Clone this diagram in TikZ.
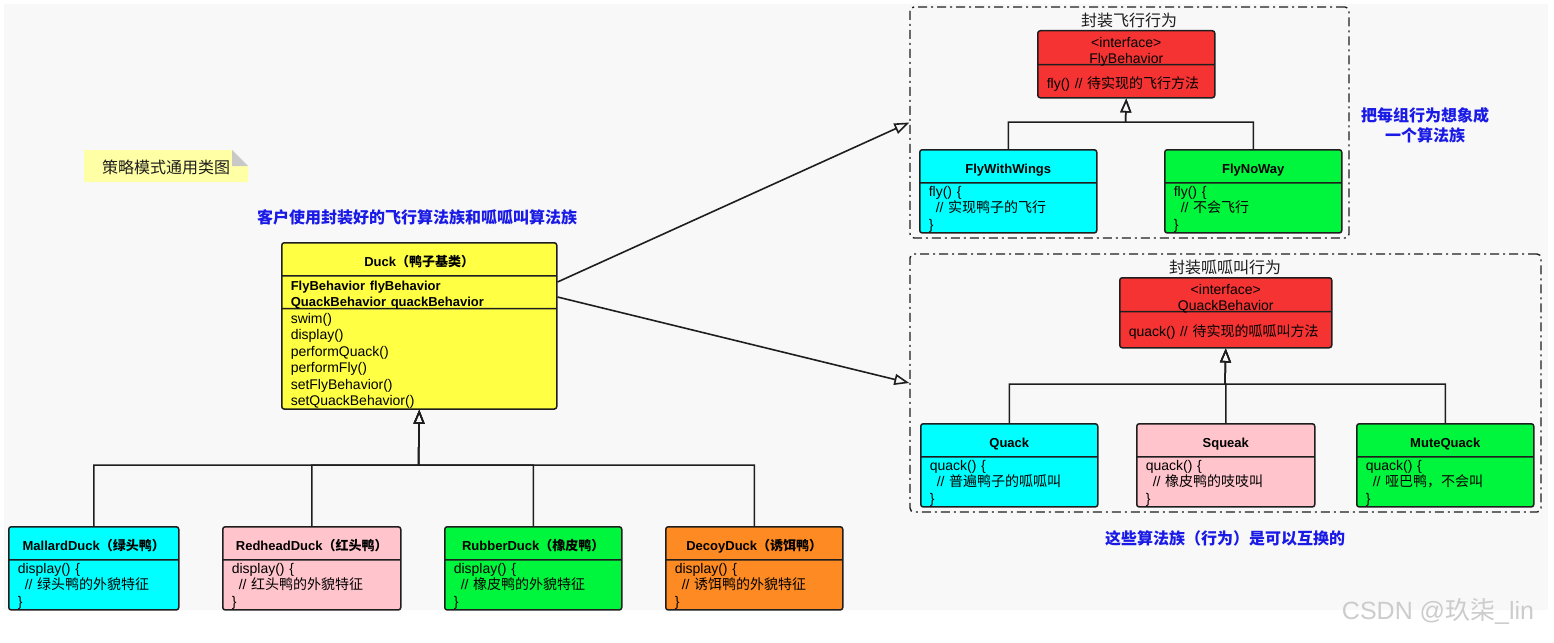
\documentclass[tikz,border=0pt]{standalone}
\usepackage{fontspec}
\setmainfont{Liberation Sans}
\newfontfamily\zhfont{Noto Sans CJK SC}
\usetikzlibrary{shapes.multipart,arrows.meta}
\usepackage{xcolor}

\definecolor{linec}{HTML}{1E1E1E}
\definecolor{bgc}{HTML}{F8F8F8}
\definecolor{duckc}{HTML}{FFFF44}
\definecolor{cyanc}{HTML}{00FFFF}
\definecolor{pinkc}{HTML}{FFC4CC}
\definecolor{greenc}{HTML}{00F53D}
\definecolor{orangec}{HTML}{FD8A23}
\definecolor{redc}{HTML}{F53333}
\definecolor{notec}{HTML}{FFFFA6}
\definecolor{foldc}{HTML}{C8C8C8}
\definecolor{bluec}{HTML}{1A1AE6}

\newcommand{\zh}[1]{{\zhfont #1}}
\newcommand{\hd}[1]{\centering\bfseries\fontsize{13}{16.4}\selectfont\rule[-9pt]{0pt}{31.5pt}#1\par}
\newcommand{\fstrut}{\rule{0pt}{13pt}}

\begin{document}
\begin{tikzpicture}[x=1pt, y=-1pt,
    cls/.style={draw=linec, line width=1.5pt, rounded corners=2.5pt, anchor=north west, rectangle split, rectangle split parts=2, align=left, inner xsep=9pt, inner ysep=0pt, font=\fontsize{14}{16.4}\selectfont},
    grp/.style={draw=linec, line width=1.4pt, rounded corners=4pt, dash pattern=on 9pt off 4pt on 2pt off 4pt},
    grptitle/.style={font=\fontsize{16}{20}\selectfont, text=linec, inner sep=0pt},
    hint/.style={font=\bfseries\fontsize{16}{20}\selectfont, text=bluec, align=center, inner sep=0pt},
    inh/.style={draw=linec, line width=1.5pt, -{Triangle[open, length=14pt, width=11pt]}},
    assoc/.style={draw=linec, line width=1.6pt, -{Triangle[open, length=15pt, width=11pt]}}
]
\useasboundingbox (0,0) rectangle (1554,642);
\fill[bgc] (4,4) rectangle (1548,610);

% note
\fill[notec] (84,150) -- (232,150) -- (248,166) -- (248,182) -- (84,182) -- cycle;
\fill[foldc] (232,150) -- (248,166) -- (232,166) -- cycle;
\node[font=\fontsize{16}{20}\selectfont, text=linec] (note) at (166,167) {\zh{策略模式通用类图}};

\node[hint] (clientnote) at (417,217) {\zh{客户使用封装好的飞行算法族和呱呱叫算法族}};
\node[hint] (familynote) at (1425,125) {\zh{把每组行为想象成}\\\zh{一个算法族}};
\node[hint] (swapnote) at (1225,538) {\zh{这些算法族（行为）是可以互换的}};

% client
\node[cls, rectangle split parts=3, text width=257pt, fill=duckc] (duck) at (281,242) {\hd{Duck\zh{（鸭子基类）}}
    \nodepart{two}\bfseries\fontsize{13}{16.4}\selectfont\rule{0pt}{14pt}FlyBehavior flyBehavior\\ \leavevmode\smash{QuackBehavior quackBehavior}\rule[-1pt]{0pt}{0pt}
    \nodepart{three}\rule{0pt}{14pt}swim()\\ display()\\ performQuack()\\ performFly()\\ setFlyBehavior()\\ setQuackBehavior()
};

% ducks
\node[cls, text width=152pt, fill=cyanc] (mallard) at (8,526) {\hd{MallardDuck\zh{（绿头鸭）}}
    \nodepart{two}\fstrut display() \{\\ \hspace*{7pt}// \zh{绿头鸭的外貌特征}\\ \}
};
\node[cls, text width=160pt, fill=pinkc] (redhead) at (222,526) {\hd{RedheadDuck\zh{（红头鸭）}}
    \nodepart{two}\fstrut display() \{\\ \hspace*{7pt}// \zh{红头鸭的外貌特征}\\ \}
};
\node[cls, text width=159pt, fill=greenc] (rubber) at (444,526) {\hd{RubberDuck\zh{（橡皮鸭）}}
    \nodepart{two}\fstrut display() \{\\ \hspace*{7pt}// \zh{橡皮鸭的外貌特征}\\ \}
};
\node[cls, text width=159pt, fill=orangec] (decoy) at (665,526) {\hd{DecoyDuck\zh{（诱饵鸭）}}
    \nodepart{two}\fstrut display() \{\\ \hspace*{7pt}// \zh{诱饵鸭的外貌特征}\\ \}
};

% fly behaviour family
\node[grp, minimum width=439pt, minimum height=231pt] (flygroup) at (1129.5,122.5) {};
\node[grptitle] (flytitle) at (1129,20) {\zh{封装飞行行为}};
\node[cls, text width=159pt, fill=redc] (flyb) at (1037,30) {\centering\rule{0pt}{16pt}<interface>\\ \leavevmode\smash{FlyBehavior}\par
    \nodepart{two}\rule[-9pt]{0pt}{31.6pt}fly() // \zh{待实现的飞行方法}
};
\node[cls, text width=159pt, fill=cyanc] (wings) at (919,149) {\hd{FlyWithWings}
    \nodepart{two}\fstrut fly() \{\\ \hspace*{7pt}// \zh{实现鸭子的飞行}\\ \}
};
\node[cls, text width=159pt, fill=greenc] (noway) at (1164,149) {\hd{FlyNoWay}
    \nodepart{two}\fstrut fly() \{\\ \hspace*{7pt}// \zh{不会飞行}\\ \}
};

% quack behaviour family
\node[grp, minimum width=631pt, minimum height=258pt] (quackgroup) at (1225.5,383) {};
\node[grptitle] (quacktitle) at (1225,267) {\zh{封装呱呱叫行为}};
\node[cls, text width=194pt, fill=redc] (quackb) at (1119,277) {\centering\rule{0pt}{16pt}<interface>\\ \leavevmode\smash{QuackBehavior}\par
    \nodepart{two}\rule[-11pt]{0pt}{34.6pt}quack() // \zh{待实现的呱呱叫方法}
};
\node[cls, text width=159pt, fill=cyanc] (quack) at (920,423) {\hd{Quack}
    \nodepart{two}\fstrut quack() \{\\ \hspace*{7pt}// \zh{普遍鸭子的呱呱叫}\\ \}
};
\node[cls, text width=160pt, fill=pinkc] (squeak) at (1136,423) {\hd{Squeak}
    \nodepart{two}\fstrut quack() \{\\ \hspace*{7pt}// \zh{橡皮鸭的吱吱叫}\\ \}
};
\node[cls, text width=159pt, fill=greenc] (mute) at (1356,423) {\hd{MuteQuack}
    \nodepart{two}\fstrut quack() \{\\ \hspace*{7pt}// \zh{哑巴鸭，不会叫}\\ \}
};

% inheritance
\coordinate (duckbar) at (418.5,465);
\coordinate (flybar) at (1125.5,122);
\coordinate (quackbar) at (1225,384);
\draw[inh] (mallard.north) |- (duckbar) -- (duck.south);
\draw[inh] (redhead.north) |- (duckbar) -- (duck.south);
\draw[inh] (rubber.north) |- (duckbar) -- (duck.south);
\draw[inh] (decoy.north) |- (duckbar) -- (duck.south);
\draw[inh] (wings.north) |- (flybar) -- (flyb.south);
\draw[inh] (noway.north) |- (flybar) -- (flyb.south);
\draw[inh] (quack.north) |- (quackbar) -- (quackb.south);
\draw[inh] (squeak.north) |- (quackbar) -- (quackb.south);
\draw[inh] (mute.north) |- (quackbar) -- (quackb.south);

% has-a
\draw[assoc] ([yshift=-40pt]duck.north east) -- (flygroup.west);
\draw[assoc] ([yshift=-55pt]duck.north east) -- (quackgroup.west);

\node[font=\fontsize{25}{27}\selectfont, text=gray!40] (mark) at (1438,611) {CSDN @\zh{玖柒}\_lin};
\end{tikzpicture}
\end{document}
